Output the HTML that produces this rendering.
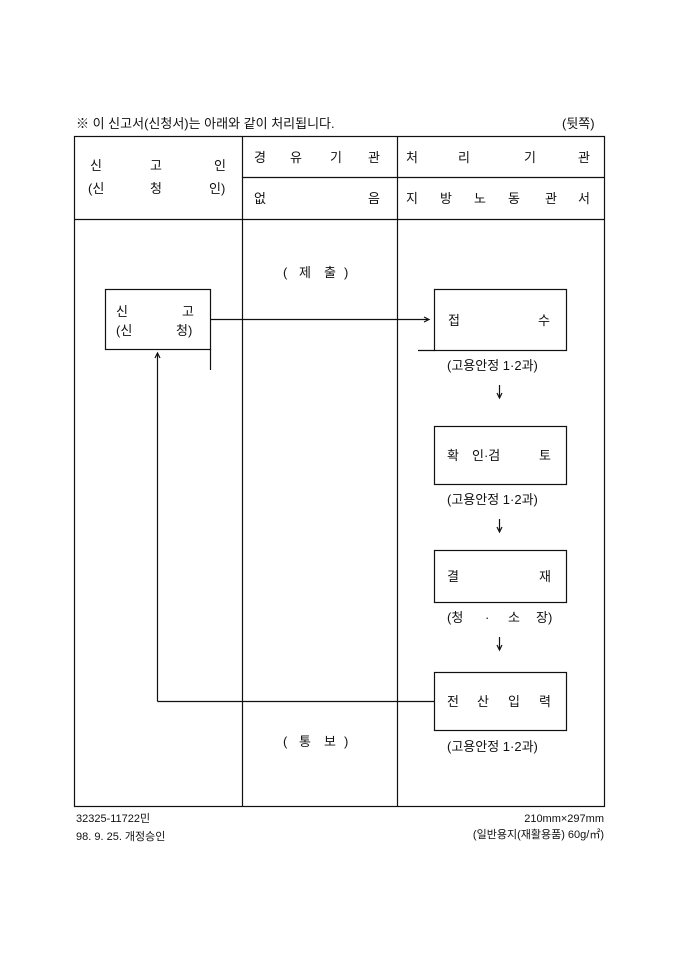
<!DOCTYPE html>
<html><head><meta charset="utf-8"><style>
body{margin:0;background:#fff;}
svg text{font-family:"Liberation Sans","Noto Sans CJK KR","NanumGothic",sans-serif;font-size:13px;fill:#111;}
</style></head><body>
<svg width="680" height="962" viewBox="0 0 680 962" xmlns="http://www.w3.org/2000/svg">
<g stroke="#111" stroke-width="1.2" fill="none">
<rect x="74.5" y="136.5" width="530" height="670"/>
<line x1="74" y1="219.5" x2="605" y2="219.5"/>
<line x1="242.5" y1="136" x2="242.5" y2="806"/>
<line x1="397.5" y1="136" x2="397.5" y2="806"/>
<line x1="242" y1="177.5" x2="605" y2="177.5"/>
<rect x="105.5" y="289.5" width="105" height="60"/>
<line x1="210.5" y1="349" x2="210.5" y2="370"/>
<line x1="210" y1="319.5" x2="428" y2="319.5"/>
<path d="M424 317 L429 319.5 L424 322"/>
<rect x="434.5" y="289.5" width="132" height="61"/>
<line x1="418" y1="350.5" x2="435" y2="350.5"/>
<rect x="434.5" y="426.5" width="132" height="58"/>
<rect x="434.5" y="550.5" width="132" height="52"/>
<rect x="434.5" y="672.5" width="132" height="58"/>
<line x1="434" y1="701.5" x2="157.5" y2="701.5"/>
<line x1="157.5" y1="701.5" x2="157.5" y2="353"/>
<path d="M155 358 L157.5 353 L160 358"/>
<line x1="499.5" y1="385" x2="499.5" y2="398"/>
<path d="M497 393 L499.5 398 L502 393"/>
<line x1="499.5" y1="519" x2="499.5" y2="532"/>
<path d="M497 527 L499.5 532 L502 527"/>
<line x1="499.5" y1="637" x2="499.5" y2="650"/>
<path d="M497 645 L499.5 650 L502 645"/>
</g>
<text x="76" y="128">※ 이 신고서(신청서)는 아래와 같이 처리됩니다.</text>
<text x="562" y="128">(뒷쪽)</text>
<text x="90" y="170">신</text><text x="150" y="170">고</text><text x="214" y="170">인</text>
<text x="88" y="193">(신</text><text x="150" y="193">청</text><text x="209" y="193">인)</text>
<text x="254" y="162">경</text><text x="290" y="162">유</text><text x="330" y="162">기</text><text x="368" y="162">관</text>
<text x="406" y="162">처</text><text x="458" y="162">리</text><text x="524" y="162">기</text><text x="578" y="162">관</text>
<text x="254" y="203">없</text><text x="368" y="203">음</text>
<text x="406" y="203">지</text><text x="440" y="203">방</text><text x="474" y="203">노</text><text x="508" y="203">동</text><text x="545" y="203">관</text><text x="578" y="203">서</text>
<text x="283" y="277">(</text><text x="299" y="277">제</text><text x="324" y="277">출</text><text x="344" y="277">)</text>
<text x="116" y="316">신</text><text x="182" y="316">고</text>
<text x="116" y="335">(신</text><text x="176" y="335">청)</text>
<text x="448" y="325">접</text><text x="538" y="325">수</text>
<text x="447" y="370">(고용안정 1·2과)</text>
<text x="447" y="460">확</text><text x="472" y="460">인·검</text><text x="539" y="460">토</text>
<text x="447" y="504">(고용안정 1·2과)</text>
<text x="447" y="581">결</text><text x="539" y="581">재</text>
<text x="447" y="622">(청</text><text x="485" y="622">·</text><text x="508" y="622">소</text><text x="536" y="622">장)</text>
<text x="447" y="706">전</text><text x="477" y="706">산</text><text x="508" y="706">입</text><text x="539" y="706">력</text>
<text x="283" y="746">(</text><text x="299" y="746">통</text><text x="324" y="746">보</text><text x="344" y="746">)</text>
<text x="447" y="751">(고용안정 1·2과)</text>
<text x="76" y="822" style="font-size:11px">32325-11722민</text>
<text x="76" y="840" style="font-size:11px">98. 9. 25. 개정승인</text>
<text x="604" y="822" text-anchor="end" style="font-size:11px">210mm×297mm</text>
<text x="604" y="838" text-anchor="end" style="font-size:11px">(일반용지(재활용품) 60g/㎡)</text>
</svg>
</body></html>
